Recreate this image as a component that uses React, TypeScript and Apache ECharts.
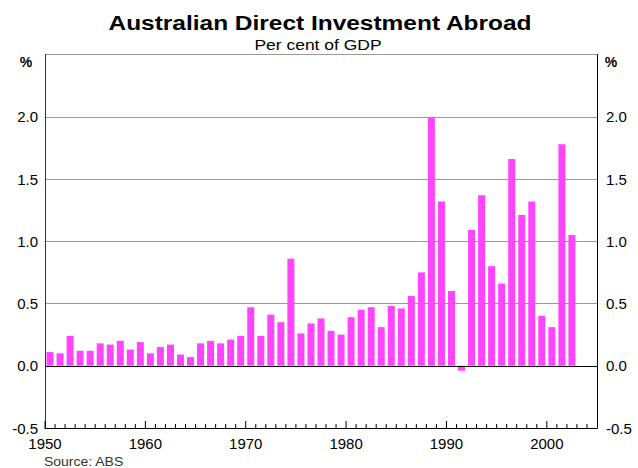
import React, { useEffect, useRef } from "react";
import * as echarts from "echarts";

const years: number[] = [
  1950, 1951, 1952, 1953, 1954, 1955, 1956, 1957, 1958, 1959,
  1960, 1961, 1962, 1963, 1964, 1965, 1966, 1967, 1968, 1969,
  1970, 1971, 1972, 1973, 1974, 1975, 1976, 1977, 1978, 1979,
  1980, 1981, 1982, 1983, 1984, 1985, 1986, 1987, 1988, 1989,
  1990, 1991, 1992, 1993, 1994, 1995, 1996, 1997, 1998, 1999,
  2000, 2001, 2002,
];

const investment: number[] = [
  0.11, 0.10, 0.24, 0.12, 0.12, 0.18, 0.17, 0.20, 0.13, 0.19,
  0.10, 0.15, 0.17, 0.09, 0.07, 0.18, 0.20, 0.18, 0.21, 0.24,
  0.47, 0.24, 0.41, 0.35, 0.86, 0.26, 0.34, 0.38, 0.28, 0.25,
  0.39, 0.45, 0.47, 0.31, 0.48, 0.46, 0.56, 0.75, 1.99, 1.32,
  0.60, -0.04, 1.09, 1.37, 0.80, 0.66, 1.66, 1.21, 1.32, 0.40,
  0.31, 1.78, 1.05,
];

const yTicks: number[] = [-0.5, 0, 0.5, 1.0, 1.5, 2.0, 2.5];
const xTickYears: number[] = [1950, 1960, 1970, 1980, 1990, 2000];
const xRange: number[] = [1950, 2005];

const TITLE = "Australian Direct Investment Abroad";
const SUBTITLE = "Per cent of GDP";
const SOURCE = "Source: ABS";

export default function App() {
  const ref = useRef<HTMLDivElement>(null);

  useEffect(() => {
    document.body.style.margin = "0";
    if (!ref.current) return;
    const chart = echarts.init(ref.current, undefined, { renderer: "svg" });
    const font = "'Liberation Sans', Arial, sans-serif";
    const yMin = yTicks[0];
    const yMax = yTicks[yTicks.length - 1];
    const ySpan = yMax - yMin;
    const plotHeight = 468 - 54.5 - 40;
    const yLabel = (v: number) => (v >= yMax - 1e-9 ? "" : v.toFixed(1));
    const xLabel = (v: number) => (xTickYears.indexOf(Math.round(v)) >= 0 ? String(Math.round(v)) : "");

    // tick marks along the bottom axis, one per year, longer at decades
    const majorLen = (7 / plotHeight) * ySpan;
    const minorLen = (4 / plotHeight) * ySpan;
    const tickMarks: number[][] = [];
    for (let y = xRange[0]; y < xRange[1]; y++) {
      tickMarks.push([y, xTickYears.indexOf(y) >= 0 ? majorLen : minorLen]);
    }

    chart.setOption({
      animation: false,
      grid: { left: 45, right: 41, top: 54.5, bottom: 40, containLabel: false },
      xAxis: [
        {
          type: "value",
          min: xRange[0],
          max: xRange[1],
          interval: 10,
          position: "bottom",
          axisLine: { show: true, onZero: false, lineStyle: { color: "#000", width: 1 } },
          axisTick: { show: false },
          axisLabel: {
            show: true,
            formatter: xLabel,
            showMaxLabel: false,
            fontSize: 15,
            fontFamily: font,
            color: "#000",
            margin: 8,
          },
          splitLine: { show: false },
        },
        {
          type: "value",
          min: xRange[0],
          max: xRange[1],
          show: false,
          axisLine: { show: false, onZero: false },
          axisTick: { show: false },
          axisLabel: { show: false },
          splitLine: { show: false },
        },
      ],
      yAxis: [
        {
          type: "value",
          min: yMin,
          max: yMax,
          interval: 0.5,
          position: "left",
          axisLine: { show: true, onZero: false, lineStyle: { color: "#333", width: 1 } },
          axisTick: { show: false },
          axisLabel: {
            formatter: yLabel,
            fontSize: 15,
            fontFamily: font,
            color: "#000",
            margin: 7,
          },
          splitLine: { show: true, lineStyle: { color: "#999", width: 1 } },
        },
        {
          type: "value",
          min: yMin,
          max: yMax,
          interval: 0.5,
          position: "right",
          axisLine: { show: true, onZero: false, lineStyle: { color: "#000", width: 1 } },
          axisTick: { show: false },
          axisLabel: {
            formatter: yLabel,
            fontSize: 15,
            fontFamily: font,
            color: "#000",
            margin: 9,
          },
          splitLine: { show: false },
        },
        {
          type: "value",
          min: 0,
          max: ySpan,
          show: false,
          axisLine: { show: false, onZero: false },
          axisTick: { show: false },
          axisLabel: { show: false },
          splitLine: { show: false },
        },
      ],
      series: [
        {
          type: "bar",
          xAxisIndex: 0,
          yAxisIndex: 0,
          barWidth: 7,
          itemStyle: { color: "#FF44FF" },
          data: years.map((y, i) => [y + 0.5, investment[i]]),
          markLine: {
            silent: true,
            symbol: "none",
            label: { show: false },
            lineStyle: { color: "#000", width: 1, type: "solid" },
            data: [{ yAxis: 0 }],
          },
        },
        {
          type: "bar",
          xAxisIndex: 1,
          yAxisIndex: 2,
          barWidth: 1,
          silent: true,
          z: 5,
          itemStyle: { color: "#000" },
          data: tickMarks,
        },
      ],
      graphic: [
        {
          type: "text",
          x: 320,
          y: 23,
          scaleX: 1.165,
          style: {
            text: TITLE,
            fontSize: 21,
            fontWeight: "bold",
            fontFamily: font,
            fill: "#000",
            textAlign: "center",
            textVerticalAlign: "middle",
          },
        },
        {
          type: "text",
          x: 318,
          y: 44.5,
          scaleX: 1.165,
          style: {
            text: SUBTITLE,
            fontSize: 15,
            fontFamily: font,
            fill: "#000",
            textAlign: "center",
            textVerticalAlign: "middle",
          },
        },
        {
          type: "text",
          x: 26,
          y: 62,
          style: {
            text: "%",
            fontSize: 14,
            fontWeight: "bold",
            fontFamily: font,
            fill: "#000",
            textAlign: "center",
            textVerticalAlign: "middle",
          },
        },
        {
          type: "text",
          x: 611,
          y: 62,
          style: {
            text: "%",
            fontSize: 14,
            fontWeight: "bold",
            fontFamily: font,
            fill: "#000",
            textAlign: "center",
            textVerticalAlign: "middle",
          },
        },
        {
          type: "text",
          x: 44,
          y: 462,
          scaleX: 1.165,
          style: {
            text: SOURCE,
            fontSize: 12,
            fontFamily: font,
            fill: "#333",
            textAlign: "left",
            textVerticalAlign: "middle",
          },
        },
      ],
    });

    return () => chart.dispose();
  }, []);

  return <div ref={ref} style={{ width: 638, height: 468 }} />;
}
